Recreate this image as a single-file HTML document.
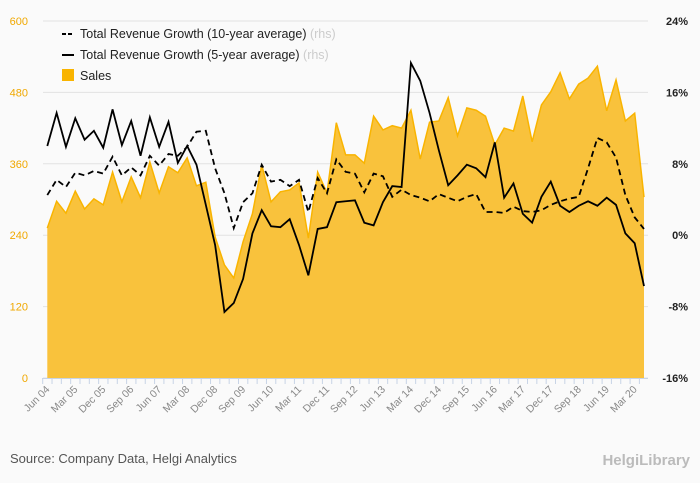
<!DOCTYPE html>
<html><head><meta charset="utf-8"><style>
body{margin:0;background:#fafafa;font-family:"Liberation Sans",sans-serif}
svg{display:block}
</style></head><body>
<svg id="c" width="700" height="483" xmlns="http://www.w3.org/2000/svg">
<rect width="700" height="483" fill="#fafafa"/>
<g id="grid"></g><g id="marks"></g><g id="axes"></g>
<g font-size="12.5" fill="#222">
<line x1="62" y1="34" x2="74" y2="34" stroke="#000" stroke-width="2" stroke-dasharray="4,2"/>
<text x="80" y="38">Total Revenue Growth (10-year average) <tspan fill="#ccc">(rhs)</tspan></text>
<line x1="62" y1="55" x2="74" y2="55" stroke="#000" stroke-width="2"/>
<text x="80" y="59">Total Revenue Growth (5-year average) <tspan fill="#ccc">(rhs)</tspan></text>
<rect x="62" y="69" width="12" height="12" fill="#f9b400"/>
<text x="80" y="80">Sales</text>
</g>
<text x="10" y="463" font-size="13" fill="#555">Source: Company Data, Helgi Analytics</text>
<text x="690" y="465" font-size="15" fill="#bbb" text-anchor="end" font-weight="bold">HelgiLibrary</text>
</svg>
<script>
const sales=[252,297,277,314,284,301,291,346,296,338,303,363,311,355,345,370,323,329,237,190,168,229,276,358,296,313,316,328,235,346,311,429,375,375,361,440,417,424,420,450,368,430,432,471,407,454,450,440,392,420,415,474,397,459,481,513,469,494,504,524,449,501,432,445,304];
const growth5=[10.0,13.7,9.9,13.1,10.7,11.7,9.8,14.1,10.1,12.8,8.9,13.2,9.9,12.7,8.1,10.0,7.9,3.4,-1.1,-8.6,-7.6,-4.9,0.2,2.8,1.0,0.9,1.8,-1.1,-4.5,0.7,0.9,3.7,3.8,3.9,1.4,1.1,3.7,5.5,5.4,19.3,17.3,13.7,9.5,5.6,6.7,7.9,7.5,6.5,10.4,4.2,5.8,2.4,1.4,4.3,6.0,3.3,2.6,3.3,3.8,3.3,4.2,3.4,0.2,-0.9,-5.7];
const growth10=[4.5,6.2,5.4,7.0,6.7,7.2,6.9,8.8,6.7,7.6,6.7,8.9,7.8,9.1,8.9,9.9,11.6,11.7,7.5,4.7,0.8,3.7,4.7,7.9,6.0,6.2,5.5,6.2,2.6,6.4,4.7,8.5,7.1,6.9,4.8,6.9,6.6,4.3,5.1,4.5,4.2,3.8,4.6,4.2,3.8,4.3,4.6,2.6,2.6,2.5,3.2,2.7,2.6,2.8,3.4,3.8,4.1,4.3,7.5,10.9,10.4,8.7,4.5,2.0,0.7];
const xLabels=["Jun 04","Mar 05","Dec 05","Sep 06","Jun 07","Mar 08","Dec 08","Sep 09","Jun 10","Mar 11","Dec 11","Sep 12","Jun 13","Mar 14","Dec 14","Sep 15","Jun 16","Mar 17","Dec 17","Sep 18","Jun 19","Mar 20"];
const leftTicks=[0,120,240,360,480,600];
const rightTicks=[-16,-8,0,8,16,24];
const NS="http://www.w3.org/2000/svg";
const X0=47.3,X1=644,Y0=378,Y1=21;
const x=i=>X0+(X1-X0)*i/(sales.length-1);
const yL=v=>Y0-(Y0-Y1)*v/600;
const yR=v=>Y0-(Y0-Y1)*(v+16)/40;
function mk(t,a,p){const e=document.createElementNS(NS,t);for(const k in a)e.setAttribute(k,a[k]);p.appendChild(e);return e;}
const grid=document.getElementById('grid'),marks=document.getElementById('marks'),axes=document.getElementById('axes');
leftTicks.forEach((v,k)=>{
 const l=mk('line',{x1:43,x2:648,y1:yL(v),y2:yL(v),stroke:'#e2e2e2'},grid);
 
 
 const t=mk('text',{x:28,y:yL(v)+4,'font-size':11,fill:'#f0a800','text-anchor':'end'},axes);t.textContent=v;
 
 
});
rightTicks.forEach(v=>{
 const t=mk('text',{x:688,y:yR(v)+4,'font-size':11,fill:'#222','text-anchor':'end','font-weight':'bold'},axes);t.textContent=v+'%';
 
 
});
let d='M'+x(0)+','+Y0;sales.forEach((v,i)=>d+='L'+x(i)+','+yL(v));d+='L'+x(sales.length-1)+','+Y0+'Z';
const area=mk('path',{d:d,fill:'#f9c23c'},marks);


const edge=mk('path',{d:'M'+sales.map((v,i)=>x(i)+','+yL(v)).join('L'),fill:'none',stroke:'#f9b400','stroke-width':1.5},marks);


const l10=mk('path',{d:'M'+growth10.map((v,i)=>x(i)+','+yR(v)).join('L'),fill:'none',stroke:'#000','stroke-width':1.8,'stroke-dasharray':'6,4'},marks);


const l5=mk('path',{d:'M'+growth5.map((v,i)=>x(i)+','+yR(v)).join('L'),fill:'none',stroke:'#000','stroke-width':1.8},marks);


const ax=mk('line',{x1:42,x2:X1+4,y1:Y0+0.5,y2:Y0+0.5,stroke:'#c8d4e6'},axes);


sales.forEach((v,i)=>{const tk=mk('line',{x1:x(i)-4.6,x2:x(i)-4.6,y1:Y0,y2:Y0+6,stroke:'#c8d4e6'},axes);
 
 });
xLabels.forEach((s,k)=>{const px=x(k*3);
 const t=mk('text',{x:px+3,y:Y0+12,'font-size':10.5,fill:'#888','text-anchor':'end',transform:`rotate(-45 ${px+3} ${Y0+12})`},axes);t.textContent=s;
 
 });
</script>
</body></html>
